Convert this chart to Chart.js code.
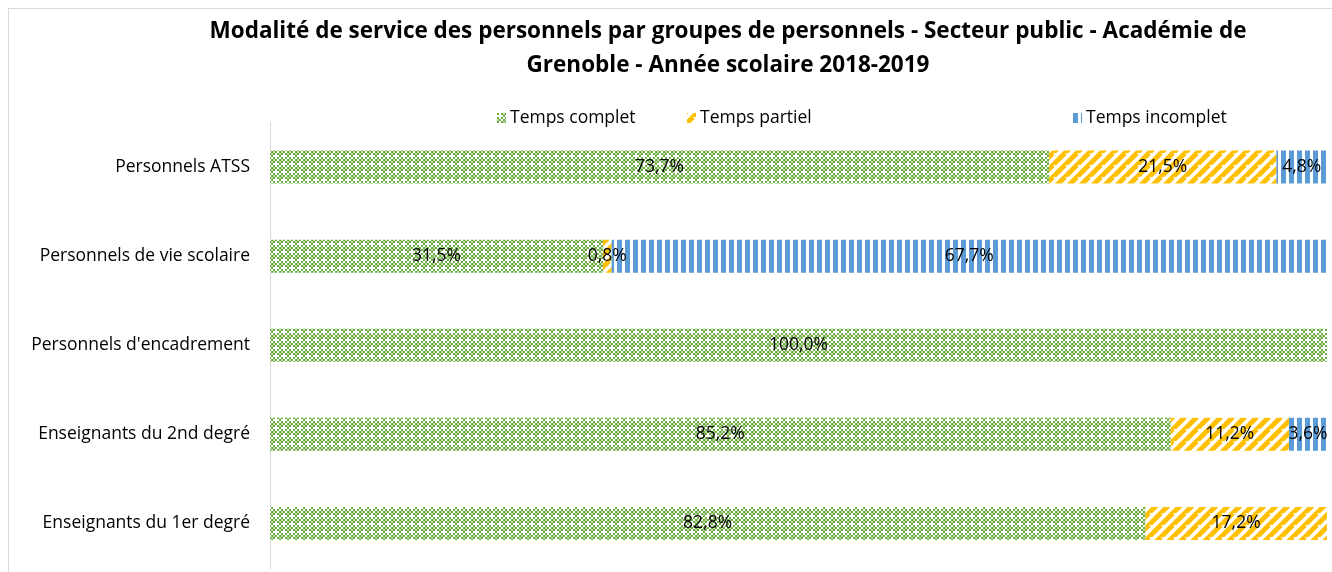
<!DOCTYPE html>
<html lang="fr">
<head>
<meta charset="utf-8">
<title>Modalité de service des personnels</title>
<script src="https://cdn.jsdelivr.net/npm/chart.js@4/dist/chart.umd.min.js"></script>
<style>
    html, body { margin: 0; padding: 0; background: #fff; overflow: hidden; }
    #cadre {
        position: absolute; left: 8px; top: 8px;
        width: 1438px; height: 600px;
        border: 1px solid #d9d9d9;
    }
    #cadre canvas { display: block; }
</style>
</head>
<body>
<div id="cadre">
    <canvas id="modaliteChart" width="1438" height="563"></canvas>
</div>
<script>
// Groupes de personnels (de haut en bas)
const categories = [
    'Personnels ATSS',
    'Personnels de vie scolaire',
    "Personnels d'encadrement",
    'Enseignants du 2nd degré',
    'Enseignants du 1er degré'
];
const seriesNames = ['Temps complet', 'Temps partiel', 'Temps incomplet'];

// Parts en %
const tempsComplet   = [73.7, 31.5, 100.0, 85.2, 82.8];
const tempsPartiel   = [21.5,  0.8,   0.0, 11.2, 17.2];
const tempsIncomplet = [ 4.8, 67.7,   0.0,  3.6,  0.0];

const titleLines = [
    'Modalité de service des personnels par groupes de personnels - Secteur public - Académie de',
    'Grenoble - Année scolaire 2018-2019'
];

const FONT = '"Open Sans", "DejaVu Sans", sans-serif';
const TXT = 17.5;

// --- motifs de remplissage façon Excel ---
function makeTile(size, draw) {
    const c = document.createElement('canvas');
    c.width = size; c.height = size;
    const g = c.getContext('2d');
    g.fillStyle = '#ffffff';
    g.fillRect(0, 0, size, size);
    draw(g);
    return c;
}

const tileVert = makeTile(8, function(g) {
    g.fillStyle = '#70ad47';
    for (let y = 0; y < 8; y += 2) {
        for (let x = 0; x < 8; x += 2) {
            if (((x + y) / 2) % 2 === 0) g.fillRect(x, y, 2, 2);
        }
    }
    // petites croix blanches
    g.fillStyle = '#ffffff';
    g.fillRect(2, 0, 2, 6);
    g.fillRect(0, 2, 6, 2);
    g.fillStyle = '#b4d69c';
    g.fillRect(6, 0, 2, 2);
    g.fillRect(0, 6, 2, 2);
});

const tileJaune = makeTile(12, function(g) {
    g.strokeStyle = '#ffc000';
    g.lineWidth = 5;
    for (let k = -12; k <= 24; k += 12) {
        g.beginPath();
        g.moveTo(k - 12, 24);
        g.lineTo(k + 12, 0);
        g.stroke();
    }
});

const tileBleu = makeTile(8, function(g) {
    g.fillStyle = '#5b9bd5';
    g.fillRect(0, 0, 5, 8);
});

const ctx = document.getElementById('modaliteChart').getContext('2d');
const patterns = [
    ctx.createPattern(tileVert, 'repeat'),
    ctx.createPattern(tileJaune, 'repeat'),
    ctx.createPattern(tileBleu, 'repeat')
];

// Légende dessinée à la main (espacement irrégulier comme dans Excel)
const legendX = [488, 678, 1064];
const legendPlugin = {
    id: 'legendeManuelle',
    afterDraw(chart) {
        const c = chart.ctx;
        const y = 109;
        c.save();
        c.font = TXT + 'px ' + FONT;
        c.textBaseline = 'middle';
        seriesNames.forEach(function(name, i) {
            const x = legendX[i];
            c.fillStyle = patterns[i];
            c.fillRect(x, y - 5, 9, 10);
            c.fillStyle = '#000';
            c.fillText(name, x + 13, y);
        });
        c.restore();
    }
};

// Étiquettes de valeur au centre des segments
const labelPlugin = {
    id: 'etiquettes',
    afterDatasetsDraw(chart) {
        const c = chart.ctx;
        c.save();
        c.font = TXT + 'px ' + FONT;
        c.fillStyle = '#000';
        c.textAlign = 'center';
        c.textBaseline = 'middle';
        chart.data.datasets.forEach(function(ds, i) {
            chart.getDatasetMeta(i).data.forEach(function(bar, j) {
                const v = ds.data[j];
                if (!v) return;
                const cx = (bar.x + bar.base) / 2;
                c.fillText(v.toFixed(1).replace('.', ',') + '%', cx, bar.y);
            });
        });
        c.restore();
    }
};

const values = [tempsComplet, tempsPartiel, tempsIncomplet];

new Chart(ctx, {
    type: 'bar',
    data: {
        labels: categories,
        datasets: seriesNames.map(function(name, i) {
            return {
                label: name,
                data: values[i],
                backgroundColor: patterns[i],
                borderWidth: 0,
                barPercentage: 0.37,
                categoryPercentage: 1.0
            };
        })
    },
    options: {
        indexAxis: 'y',
        responsive: false,
        animation: false,
        layout: { padding: { left: 0, right: 0, top: 0, bottom: 4 } },
        scales: {
            x: {
                stacked: true,
                min: 0,
                max: 100,
                display: false
            },
            y: {
                stacked: true,
                grid: { display: false, drawTicks: false },
                border: { display: true, color: '#d9d9d9', width: 1 },
                ticks: {
                    color: '#000',
                    font: { family: FONT, size: TXT },
                    padding: 20
                },
                afterFit(scale) {
                    scale.width = 261;
                    // pas de marge verticale pour les libellés extrêmes
                    scale.paddingTop = 0;
                    scale.paddingBottom = 0;
                }
            },
            // axe vide à droite : réserve la marge sans décentrer le titre
            marge: {
                type: 'category',
                position: 'right',
                grid: { display: false, drawTicks: false },
                border: { display: false },
                ticks: { display: false },
                afterFit(scale) {
                    scale.width = 120;
                    scale.paddingTop = 0;
                    scale.paddingBottom = 0;
                }
            }
        },
        plugins: {
            legend: { display: false },
            tooltip: { enabled: false },
            title: {
                display: true,
                text: titleLines,
                color: '#000',
                font: { family: FONT, size: 22.5, weight: 'bold', lineHeight: 1.5 },
                padding: { top: 6, bottom: 40 }
            }
        }
    },
    plugins: [legendPlugin, labelPlugin]
});
</script>
</body>
</html>
